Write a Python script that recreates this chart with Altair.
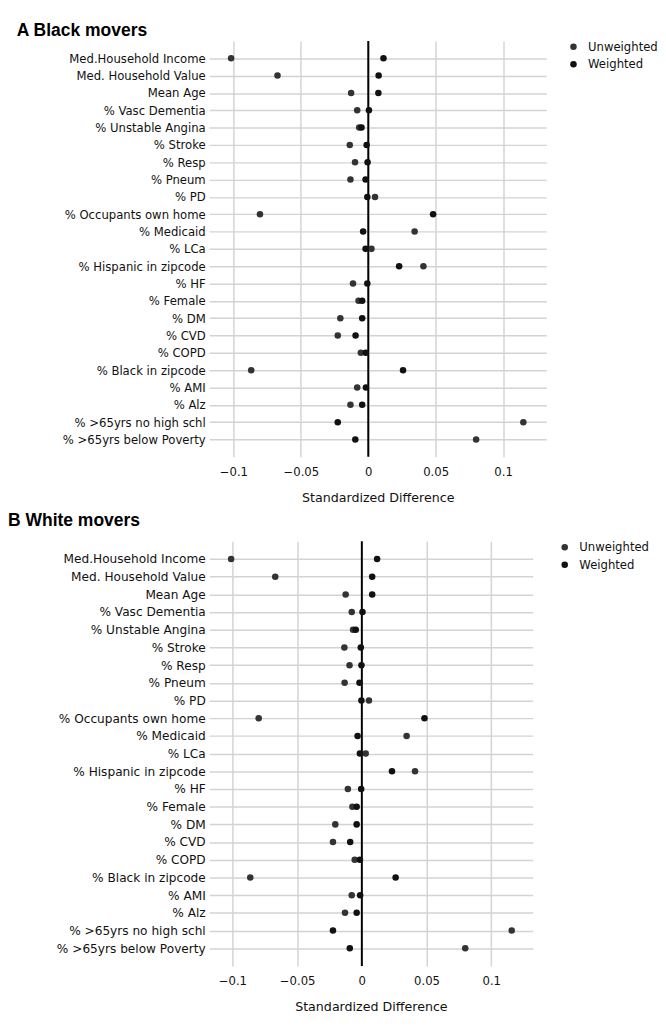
import altair as alt
import pandas as pd

variables = [
    "Med.Household Income", "Med. Household Value", "Mean Age", "% Vasc Dementia",
    "% Unstable Angina", "% Stroke", "% Resp", "% Pneum", "% PD",
    "% Occupants own home", "% Medicaid", "% LCa", "% Hispanic in zipcode", "% HF",
    "% Female", "% DM", "% CVD", "% COPD", "% Black in zipcode", "% AMI", "% Alz",
    "% >65yrs no high schl", "% >65yrs below Poverty",
]

a_unweighted = [-0.1017, -0.0673, -0.0127, -0.0082, -0.0067, -0.0137, -0.0098, -0.0132,
                0.0050, -0.0803, 0.0344, 0.0024, 0.0409, -0.0113, -0.0072, -0.0207,
                -0.0226, -0.0055, -0.0868, -0.0082, -0.0132, 0.1150, 0.0800]
a_weighted = [0.0113, 0.0077, 0.0075, 0.0005, -0.0050, -0.0012, -0.0005, -0.0020,
              -0.0007, 0.0481, -0.0038, -0.0020, 0.0229, -0.0007, -0.0045, -0.0045,
              -0.0094, -0.0019, 0.0258, -0.0017, -0.0045, -0.0226, -0.0096]

b_unweighted = [-0.1010, -0.0669, -0.0125, -0.0078, -0.0068, -0.0135, -0.0095, -0.0133,
                0.0055, -0.0797, 0.0346, 0.0030, 0.0411, -0.0108, -0.0073, -0.0205,
                -0.0223, -0.0055, -0.0862, -0.0078, -0.0130, 0.1158, 0.0799]
b_weighted = [0.0118, 0.0080, 0.0080, 0.0005, -0.0047, -0.0008, -0.0003, -0.0018,
              -0.0003, 0.0484, -0.0033, -0.0015, 0.0233, -0.0005, -0.0040, -0.0040,
              -0.0090, -0.0015, 0.0261, -0.0013, -0.0040, -0.0223, -0.0093]

series = ["Unweighted", "Weighted"]
series_colors = ["#333333", "#111111"]
x_ticks = [-0.1, -0.05, 0, 0.05, 0.1]
x_domain = [-0.118, 0.132]
zero_line = [0]
panel_titles = ["A Black movers", "B White movers"]


def panel(title, unw, wt, width, height, min_extent, label_size, legend_offset, title_y):
    n = len(variables)
    df = pd.DataFrame({
        "variable": variables * 2,
        "value": unw + wt,
        "series": [series[0]] * n + [series[1]] * n,
    })
    zero_df = pd.DataFrame({"value": zero_line})
    title_df = pd.DataFrame({"label": [title]})

    x_enc = alt.X(
        "value:Q",
        scale=alt.Scale(domain=x_domain, nice=False, zero=False),
        axis=alt.Axis(
            values=x_ticks, format=".2~f", title="Standardized Difference",
            grid=True, gridColor="#d3d3d3", gridWidth=1.5, domain=False, ticks=False,
            labelPadding=10, labelFontSize=12, titleFontSize=13,
            titlePadding=15, titleFontWeight="normal",
        ),
    )
    y_enc = alt.Y(
        "variable:N", sort=variables,
        scale=alt.Scale(type="point", padding=1.3),
        axis=alt.Axis(
            title=None, grid=True, gridColor="#d3d3d3", gridWidth=1.5, domain=False,
            ticks=False, labelPadding=4, minExtent=min_extent, maxExtent=min_extent,
            labelFontSize=label_size, labelLimit=400,
        ),
    )

    zero = alt.Chart(zero_df).mark_rule(color="black", strokeWidth=2).encode(x=x_enc)
    pts = alt.Chart(df).mark_circle(size=45, opacity=1).encode(
        x=x_enc,
        y=y_enc,
        color=alt.Color(
            "series:N",
            scale=alt.Scale(domain=series, range=series_colors),
            legend=alt.Legend(title=None, offset=legend_offset),
        ),
    )
    head = alt.Chart(title_df).mark_text(
        font="Liberation Sans", fontSize=18, fontWeight="bold", align="left",
        baseline="middle", color="#000000",
    ).encode(text="label:N", x=alt.value(-min_extent), y=alt.value(title_y))
    return alt.layer(zero, pts, head).properties(width=width, height=height)


panel_a = panel(panel_titles[0], a_unweighted, a_weighted, 347, 428, 198, 12, 22, -10)
panel_b = panel(panel_titles[1], b_unweighted, b_weighted, 333, 437, 207, 12.5, 27, -21)

chart = (
    alt.vconcat(panel_a, panel_b, spacing=8)
    .resolve_scale(color="independent", x="independent", y="independent")
    .properties(padding=0)
    .configure_view(stroke=None)
    .configure_axis(labelFont="DejaVu Sans", titleFont="DejaVu Sans",
                    labelColor="#111111", titleColor="#111111")
    .configure_legend(labelFont="DejaVu Sans", labelFontSize=12, labelColor="#111111",
                      symbolType="circle", symbolSize=45, symbolStrokeWidth=0,
                      rowPadding=6, labelOffset=9, orient="right")
)

chart.save("out.html", embed_options={"renderer": "svg", "actions": False})
